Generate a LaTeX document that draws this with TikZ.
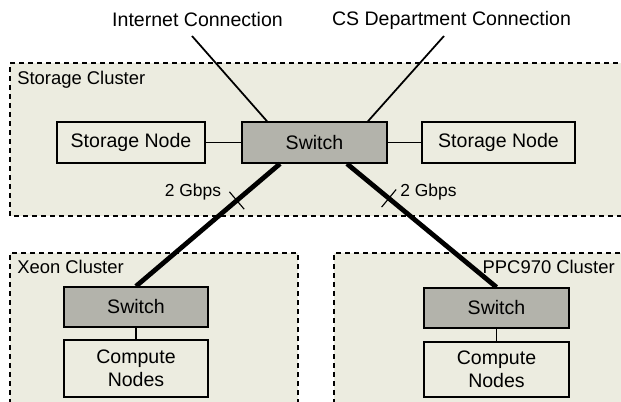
\documentclass[tikz,border=0pt]{standalone}
\usepackage{fontspec}
\setmainfont{Liberation Sans}
\definecolor{clusterFill}{HTML}{ECECE0}
\definecolor{switchFill}{HTML}{B3B3AB}
\begin{document}
\begin{tikzpicture}[x=1cm,y=1cm,
  cluster/.style={draw=black,dash pattern=on 0.125cm off 0.1cm,line width=0.8pt,fill=clusterFill},
  box/.style={draw=black,line width=1.1pt,fill=clusterFill,minimum height=1.025cm,
    inner sep=0pt,align=center,font=\fontsize{13.9}{16.4}\selectfont},
  switchbox/.style={box,fill=switchFill},
  clusterlabel/.style={inner sep=0pt,font=\fontsize{13.1}{15}\selectfont},
  linklabel/.style={inner sep=0pt,font=\fontsize{13.9}{16}\selectfont},
  ratelabel/.style={inner sep=0pt,font=\fontsize{12.4}{14}\selectfont},
  link/.style={draw=black,line width=1.25pt},
  trunk/.style={draw=black,line width=3.4pt},
  tickmark/.style={sloped,inner sep=0pt,minimum width=0pt,minimum height=0.45cm}]
  \useasboundingbox (0,0) rectangle (15.525,10.05);
  \clip (0,0) rectangle (15.525,10.05);
  % Cluster areas, cut off at the page edges.
  \draw[cluster] (0.25,4.65) rectangle (16,8.475);
  \draw[cluster] (0.25,-0.5) rectangle (7.45,3.725);
  \draw[cluster] (8.35,-0.5) rectangle (16,3.725);
  \node[clusterlabel,anchor=west] (storageName) at (0.425,8.05) {Storage Cluster};
  \node[clusterlabel,anchor=west] (xeonName) at (0.425,3.375) {Xeon Cluster};
  \node[clusterlabel,anchor=east] (ppcName) at (15.375,3.375) {PPC970 Cluster};
  % Storage cluster
  \node[box,minimum width=3.7cm] (storeL) at (3.275,6.4875) {Storage Node};
  \node[switchbox,minimum width=3.625cm] (swMain) at (7.8625,6.4875) {Switch};
  \node[box,minimum width=3.825cm] (storeR) at (12.4625,6.4875) {Storage Node};
  % Compute clusters
  \node[switchbox,minimum width=3.6cm,minimum height=1cm] (swXeon) at (3.4,2.375) {Switch};
  \node[box,minimum width=3.6cm,minimum height=1.425cm] (compXeon) at (3.4,0.8375) {Compute\\Nodes};
  \node[switchbox,minimum width=3.625cm,minimum height=1cm] (swPpc) at (12.4125,2.35) {Switch};
  \node[box,minimum width=3.625cm,minimum height=1.375cm] (compPpc) at (12.4125,0.8125) {Compute\\Nodes};
  % Outside connections
  \node[linklabel] (inetLabel) at (4.9375,9.55) {Internet Connection};
  \node[linklabel] (csLabel) at (11.2875,9.55) {CS Department Connection};
  \coordinate (inetEnd) at (4.8,9.15);
  \coordinate (csEnd) at (11.1,9.15);
  \draw[link] (inetEnd) -- ([xshift=-1.1875cm]swMain.north);
  \draw[link] (csEnd) -- ([xshift=1.3375cm]swMain.north);
  \draw[link] (storeL) -- (swMain);
  \draw[link] (swMain) -- (storeR);
  \draw[link] (swXeon) -- (compXeon);
  \draw[link] (swPpc) -- (compPpc);
  % 2 Gbps trunks with a tick on each
  \draw[trunk] ([xshift=-0.8625cm]swMain.south) -- node[tickmark,pos=0.3] (tickXeon) {} (swXeon.north);
  \draw[trunk] ([xshift=0.8125cm]swMain.south) -- node[tickmark,pos=0.28] (tickPpc) {} (swPpc.north);
  \draw[line width=0.8pt] (tickXeon.north) -- (tickXeon.south);
  \draw[line width=0.8pt] (tickPpc.north) -- (tickPpc.south);
  \node[ratelabel] (rateXeon) at (4.825,5.25) {2 Gbps};
  \node[ratelabel] (ratePpc) at (10.7125,5.25) {2 Gbps};
\end{tikzpicture}
\end{document}
